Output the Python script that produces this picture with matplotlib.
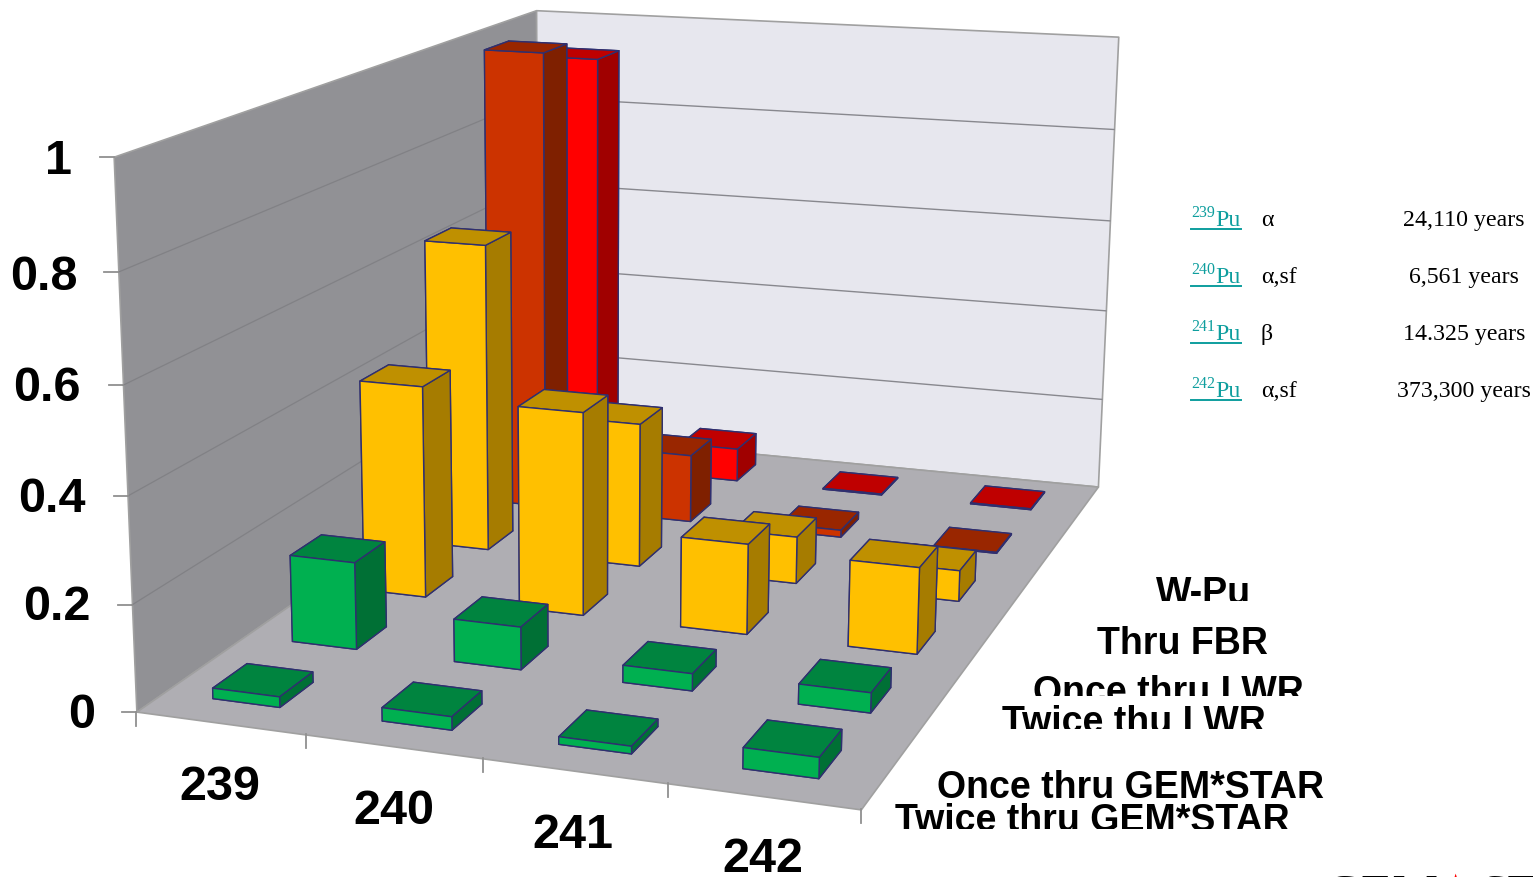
import numpy as np
import matplotlib
matplotlib.use('Agg')
import matplotlib.pyplot as plt
from matplotlib.lines import Line2D
from matplotlib.transforms import Bbox
from mpl_toolkits.mplot3d.art3d import Poly3DCollection

W, H = 1533, 877

isotopes = ['239', '240', '241', '242']
fuel_cycles = ['Twice thru GEM*STAR', 'Once thru GEM*STAR', 'Twice thu LWR',
               'Once thru LWR', 'Thru FBR', 'W-Pu']

# Isotope fractions, one row per fuel cycle (239, 240, 241, 242)
twice_gem = [0.02, 0.025, 0.014, 0.038]
once_gem = [0.171, 0.083, 0.033, 0.038]
twice_lwr = [0.43, 0.408, 0.18, 0.17]
once_lwr = [0.645, 0.30, 0.097, 0.063]
thru_fbr = [0.99, 0.146, 0.015, 0.002]
w_pu = [0.93, 0.073, 0.002, 0.002]

z_ticks = [0, 0.2, 0.4, 0.6, 0.8, 1]

half_life_rows = [('239', '\u03b1', '24,110 years'),
                  ('240', '\u03b1,sf', '6,561 years'),
                  ('241', '\u03b2', '14.325 years'),
                  ('242', '\u03b1,sf', '373,300 years')]

# (front, top, side) shades per fuel cycle
GREEN = ('#00B050', '#00843F', '#007035')
GOLD = ('#FFC000', '#BF9000', '#A67C00')
ORANGE = ('#CC3300', '#992600', '#7F2000')
RED = ('#FF0000', '#BF0000', '#A00000')
row_colors = [GREEN, GREEN, GOLD, GOLD, ORANGE, RED]
rows = [twice_gem, once_gem, twice_lwr, once_lwr, thru_fbr, w_pu]

BAR_W = 0.40
BAR_D = 0.42
BAR_OFFSET_X = 0.495
BAR_OFFSET_Y = 0.53
NX, NY = len(isotopes), len(fuel_cycles)

# World point -> pixel pairs used to calibrate the camera
camera_pairs = [((0, 0, 0), (137, 711)), ((4, 0, 0), (860, 810)),
                ((4, 6, 0), (1098, 487)), ((0, 6, 0), (537, 434)),
                ((0, 0, 1), (113, 157)), ((0, 6, 1), (537, 10)),
                ((4, 6, 1), (1118, 37)), ((4, 6, 0.2), (1102, 398)),
                ((4, 6, 0.4), (1106, 310)), ((4, 6, 0.6), (1110, 221)),
                ((4, 6, 0.8), (1114, 130)), ((0, 0, 0.2), (132, 604)),
                ((0, 0, 0.8), (118, 272)), ((1, 0, 0), (306, 735)),
                ((2, 0, 0), (484, 758)), ((3, 0, 0), (668, 784))]


def solve_camera(pairs):
    """Direct linear transform: 3x4 matrix from world to image pixels."""
    A = []
    for (x, y, z), (u, v) in pairs:
        A.append([x, y, z, 1, 0, 0, 0, 0, -u*x, -u*y, -u*z, -u])
        A.append([0, 0, 0, 0, x, y, z, 1, -v*x, -v*y, -v*z, -v])
    _, _, vt = np.linalg.svd(np.array(A, dtype=float))
    P = vt[-1].reshape(3, 4)
    return P / P[2, 3]


P = solve_camera(camera_pairs)


def to_pixel(x, y, z):
    u, v, w = P @ np.array([x, y, z, 1.0])
    return u / w, v / w


def px(x, y):
    """Image pixel to figure coordinates."""
    return x / W, 1 - y / H


fig = plt.figure(figsize=(W / 100, H / 100), dpi=100, facecolor='white')
# mplot3d keeps its axes square, so use a square that spans the figure width
ax = fig.add_axes([0, (H - W) / 2 / H, 1, W / H], projection='3d', computed_zorder=False)
ax.set_axis_off()
ax.patch.set_alpha(0)


def camera_proj():
    # pixel space -> axes 2D data space, worked out at draw time
    inv = ax.transData.inverted()
    p0 = inv.transform((0, 0))
    p1 = inv.transform((1, 1))
    sx, sy = p1 - p0
    row_x = sx * P[0] + p0[0] * P[2]
    row_y = sy * (H * P[2] - P[1]) + p0[1] * P[2]
    return np.array([row_x, row_y, [0, 0, 0, -1.0], P[2]])


ax.get_proj = camera_proj

# walls and floor
left_wall = [(0, 0, 0), (0, NY, 0), (0, NY, 1), (0, 0, 1)]
back_wall = [(0, NY, 0), (NX, NY, 0), (NX, NY, 1), (0, NY, 1)]
floor = [(0, 0, 0), (NX, 0, 0), (NX, NY, 0), (0, NY, 0)]
for verts, shade in [(left_wall, '#919195'), (back_wall, '#E7E7EE'), (floor, '#AFAEB3')]:
    ax.add_collection3d(Poly3DCollection([verts], facecolors=shade, edgecolors='#A0A0A0',
                                         linewidths=1.2, zorder=1))

# gridlines on both walls
for z in z_ticks[1:-1]:
    ax.plot([0, 0], [0, NY], [z, z], color='#818185', lw=0.9, zorder=2)
    ax.plot([0, NX], [NY, NY], [z, z], color='#88888E', lw=1.0, zorder=2)

# bars, drawn from the back row forward and left to right
for r, (vals, shades) in enumerate(zip(rows, row_colors)):
    front, top, side = shades
    for i, h in enumerate(vals):
        # bar3d face order: bottom, top, -y, +y, -x, +x
        ax.bar3d(i + BAR_OFFSET_X - BAR_W / 2, r + BAR_OFFSET_Y - BAR_D / 2, 0, BAR_W, BAR_D, h,
                 color=[side, top, front, side, side, side], shade=False,
                 edgecolor='#2F2F6F', linewidth=1.0, zorder=10 + (NY - r) * 10 + i)

# axis ticks
for z in z_ticks:
    u, v = to_pixel(0, 0, z)
    fig.add_artist(Line2D([(u - 14) / W, u / W], [1 - v / H] * 2, color='#909090', lw=1.3))
for i in range(NX + 1):
    u, v = to_pixel(i, 0, 0)
    fig.add_artist(Line2D([u / W] * 2, [1 - v / H, 1 - (v + 14) / H], color='#909090', lw=1.3))

plt.rcParams['font.family'] = ['Liberation Sans', 'DejaVu Sans']

# value axis labels
z_label_pos = [(82, 715), (57, 608), (52, 499), (47, 388), (44, 277), (58, 161)]
for z, (u, v) in zip(z_ticks, z_label_pos):
    fig.text(*px(u, v), f'{z:g}', fontsize=35, fontweight='bold', ha='center', va='center')

# isotope labels
iso_label_pos = [(220, 788), (394, 811), (573, 836), (763, 860)]
for label, (u, v) in zip(isotopes, iso_label_pos):
    fig.text(*px(u, v), label, fontsize=35, fontweight='bold', ha='center', va='center')

# fuel cycle labels: (left, baseline, bottom clip)
cycle_label_pos = [(895, 831, 829), (937, 798, 830), (1002, 733, 729),
                   (1033, 703, 696), (1097, 654, 700), (1156, 604, 601)]
for label, (u, v, clip) in zip(fuel_cycles, cycle_label_pos):
    t = fig.text(*px(u, v), label, fontsize=27, fontweight='bold', ha='left', va='baseline')
    t.set_clip_box(Bbox([[0, H - clip], [W, H]]))
    t.set_clip_on(True)

# half life table
TEAL = '#0E9E9E'
for k, (mass, mode, life) in enumerate(half_life_rows):
    base = 226 + 57 * k
    fig.text(*px(1191, base - 9), mass, fontsize=11.5, family='Liberation Serif', color=TEAL)
    fig.text(*px(1215, base), 'Pu', fontsize=17.2, family='Liberation Serif', color=TEAL)
    fig.add_artist(Line2D([1191 / W, 1241 / W], [1 - (base + 3) / H] * 2, color=TEAL, lw=1.4))
    fig.text(*px(1261, base), mode, fontsize=17.2, family='Liberation Serif', color='black')
    fig.text(*px(1464, base), life, fontsize=17.2, family='Liberation Serif', color='black', ha='center')

# logo running off the bottom edge
fig.text(*px(1325, 909), 'GEM', fontsize=37, family='Liberation Serif')
fig.text(*px(1455, 904), '\u2605', fontsize=30, family='DejaVu Sans', color='red', ha='center')
fig.text(*px(1480, 909), 'STAR', fontsize=37, family='Liberation Serif')

fig.savefig('out.png', dpi=100)
